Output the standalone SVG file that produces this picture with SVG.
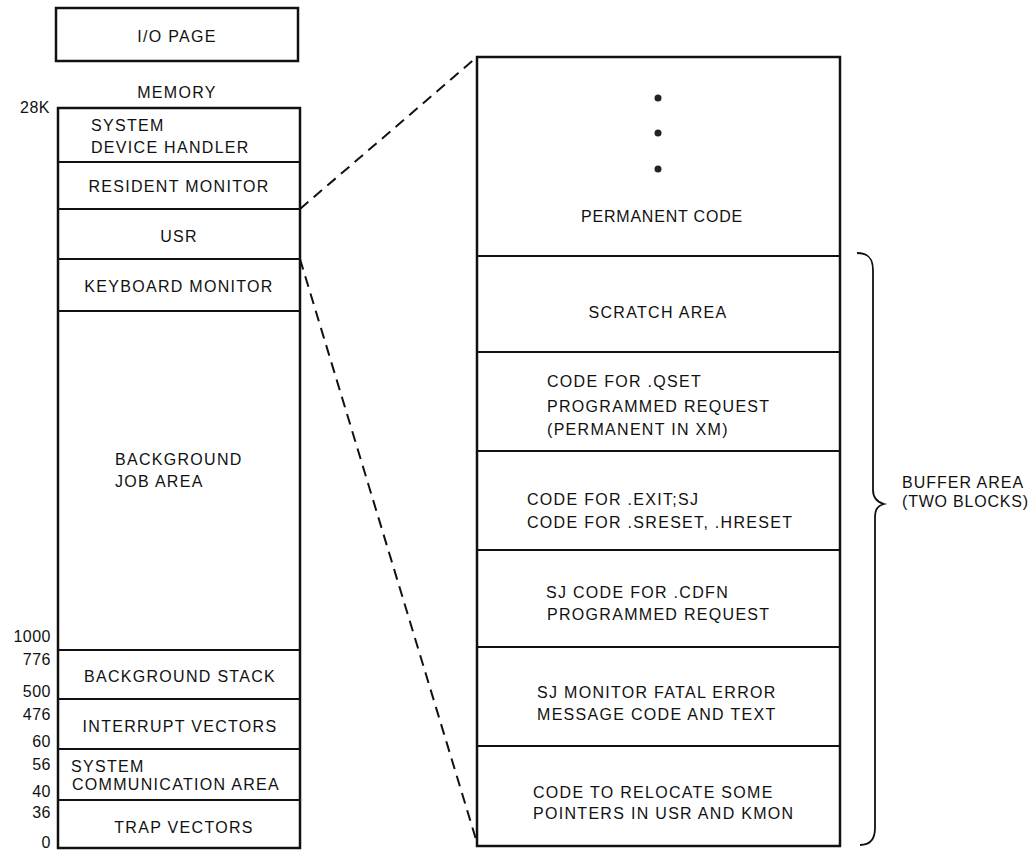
<svg xmlns="http://www.w3.org/2000/svg" width="1033" height="850" viewBox="0 0 1033 850">
<style>
text{font-family:"Liberation Sans",Arial,sans-serif;font-size:16px;letter-spacing:1.3px;fill:#111}
.c{text-anchor:middle}
.r{text-anchor:end;letter-spacing:0.5px}
.box{fill:#fff;stroke:#111;stroke-width:2.5}
.div{stroke:#111;stroke-width:1.8;fill:none}
.dash{stroke:#111;stroke-width:2;fill:none;stroke-dasharray:11 7}
</style>
<rect width="1033" height="850" fill="#fff"/>
<g id="io-page">
<rect class="box" x="56" y="8" width="242" height="53"/>
<text class="c" x="177" y="42">I/O PAGE</text>
</g>
<text class="c" x="177" y="98">MEMORY</text>
<g id="address-labels">
<text class="r" x="50" y="113">28K</text>
<text class="r" x="51" y="642">1000</text>
<text class="r" x="51" y="665">776</text>
<text class="r" x="51" y="697">500</text>
<text class="r" x="51" y="720">476</text>
<text class="r" x="51" y="747">60</text>
<text class="r" x="51" y="770">56</text>
<text class="r" x="51" y="797">40</text>
<text class="r" x="51" y="818">36</text>
<text class="r" x="51" y="848">0</text>
</g>
<g id="memory">
<rect class="box" x="58" y="108" width="242" height="740"/>
<g id="sys-device-handler"><text x="91" y="131">SYSTEM</text><text x="91" y="153">DEVICE HANDLER</text></g>
<line class="div" x1="58" y1="162" x2="300" y2="162"/>
<g id="resident-monitor"><text class="c" x="179" y="192">RESIDENT MONITOR</text></g>
<line class="div" x1="58" y1="209" x2="300" y2="209"/>
<g id="usr"><text class="c" x="179" y="242">USR</text></g>
<line class="div" x1="58" y1="259" x2="300" y2="259"/>
<g id="keyboard-monitor"><text class="c" x="179" y="292">KEYBOARD MONITOR</text></g>
<line class="div" x1="58" y1="311" x2="300" y2="311"/>
<g id="background-job"><text x="115" y="465">BACKGROUND</text><text x="115" y="487">JOB AREA</text></g>
<line class="div" x1="58" y1="650" x2="300" y2="650"/>
<g id="background-stack"><text class="c" x="180" y="682">BACKGROUND STACK</text></g>
<line class="div" x1="58" y1="699" x2="300" y2="699"/>
<g id="interrupt-vectors"><text class="c" x="180" y="732">INTERRUPT VECTORS</text></g>
<line class="div" x1="58" y1="749" x2="300" y2="749"/>
<g id="sys-comm-area"><text x="71" y="772">SYSTEM</text><text x="72" y="790">COMMUNICATION AREA</text></g>
<line class="div" x1="58" y1="800" x2="300" y2="800"/>
<g id="trap-vectors"><text class="c" x="184" y="833">TRAP VECTORS</text></g>
</g>
<g id="connectors">
<line class="dash" x1="300" y1="209" x2="477" y2="57"/>
<line class="dash" x1="300" y1="259" x2="478" y2="846"/>
<path class="div" stroke-width="2.2" d="M857 253 C868 253 873 258 873 270 L873 490 C873 498 877 502 884 504 C877 506 875 510 875 518 L875 828 C875 840 870 845 860 845"/>
</g>
<g id="usr-detail">
<rect class="box" x="477" y="57" width="363" height="789"/>
<g id="permanent-code">
<circle cx="658" cy="98" r="3.5" fill="#222"/>
<circle cx="658" cy="133" r="3.5" fill="#222"/>
<circle cx="658" cy="169" r="3.5" fill="#222"/>
<text class="c" x="662" y="222" style="letter-spacing:0.8px">PERMANENT CODE</text>
</g>
<line class="div" x1="477" y1="256" x2="840" y2="256"/>
<g id="scratch-area"><text class="c" x="658" y="318">SCRATCH AREA</text></g>
<line class="div" x1="477" y1="352" x2="840" y2="352"/>
<g id="qset"><text x="547" y="387">CODE FOR .QSET</text><text x="547" y="412">PROGRAMMED REQUEST</text><text x="547" y="435">(PERMANENT IN XM)</text></g>
<line class="div" x1="477" y1="451" x2="840" y2="451"/>
<g id="exit"><text x="527" y="505">CODE FOR .EXIT;SJ</text><text x="527" y="528">CODE FOR .SRESET, .HRESET</text></g>
<line class="div" x1="477" y1="550" x2="840" y2="550"/>
<g id="cdfn"><text x="546" y="598">SJ CODE FOR .CDFN</text><text x="547" y="620">PROGRAMMED REQUEST</text></g>
<line class="div" x1="477" y1="647" x2="840" y2="647"/>
<g id="fatal-error"><text x="537" y="698">SJ MONITOR FATAL ERROR</text><text x="537" y="720">MESSAGE CODE AND TEXT</text></g>
<line class="div" x1="477" y1="746" x2="840" y2="746"/>
<g id="relocate"><text x="533" y="798">CODE TO RELOCATE SOME</text><text x="533" y="819">POINTERS IN USR AND KMON</text></g>
</g>
<g id="buffer-label" style="letter-spacing:1px"><text x="902" y="488" style="letter-spacing:1px">BUFFER AREA</text><text x="902" y="507" style="letter-spacing:0.8px">(TWO BLOCKS)</text></g>
</svg>
